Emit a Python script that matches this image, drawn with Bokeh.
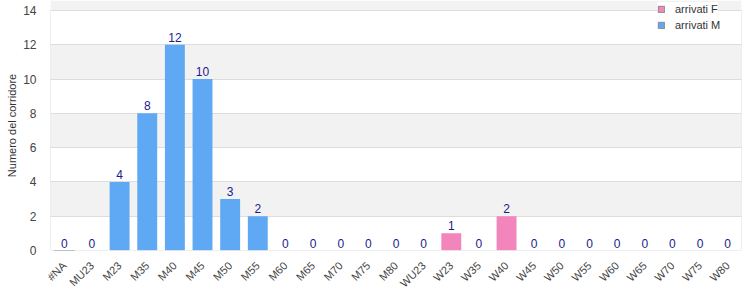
import math
from bokeh.plotting import figure
from bokeh.models import (ColumnDataSource, FactorRange, Range1d, Legend, LegendItem,
                          Span, Title)
from bokeh.core.properties import value
from bokeh.embed import file_html
from bokeh.resources import INLINE

categories_M = ["#NA", "MU23", "M23", "M35", "M40", "M45", "M50", "M55",
                "M60", "M65", "M70", "M75", "M80"]
values_M = [0, 0, 4, 8, 12, 10, 3, 2, 0, 0, 0, 0, 0]
categories_F = ["WU23", "W23", "W35", "W40", "W45", "W50", "W55", "W60",
                "W65", "W70", "W75", "W80"]
values_F = [0, 1, 0, 2, 0, 0, 0, 0, 0, 0, 0, 0]
y_ticks = [0, 2, 4, 6, 8, 10, 12, 14]
y_title = "Numero del corridore"
name_F = "arrivati F"
name_M = "arrivati M"

all_cats = categories_M + categories_F
FONT = "Liberation Sans"
BLUE = "#5fa8f3"
PINK = "#f285bc"
FRAME = "#dddddd"

# the frame reaches the top of the canvas so the legend may sit above the 14 line
y_top = y_ticks[-1] * 250 / 240

p = figure(width=750, height=300, x_range=FactorRange(*all_cats, range_padding=0),
           y_range=Range1d(0, y_top), output_backend="svg", toolbar_location=None,
           min_border_left=50, min_border_right=9, min_border_top=0, min_border_bottom=50)
p.background_fill_color = "white"
p.border_fill_color = "white"
p.outline_line_color = None

src_M = ColumnDataSource(dict(x=categories_M, y=values_M, t=[str(v) for v in values_M]))
src_F = ColumnDataSource(dict(x=categories_F, y=values_F, t=[str(v) for v in values_F]))

p.xgrid.grid_line_color = None
p.ygrid.grid_line_color = FRAME
p.ygrid.band_fill_color = "#f2f2f2"
p.ygrid.band_fill_alpha = 1.0

# frame edges (left/right limited to the 0..14 span)
n_cats = len(all_cats)
p.segment(x0=[0, n_cats], y0=[0, 0], x1=[0, n_cats], y1=[y_ticks[-1]] * 2,
          line_color=FRAME, line_width=1)
p.add_layout(Span(location=0, dimension="width", line_color=FRAME, line_width=1))
p.add_layout(Span(location=y_ticks[-1], dimension="width", line_color=FRAME, line_width=1))

rM = p.vbar(x="x", top="y", width=0.72, source=src_M, fill_color=BLUE, line_color=None)
rF = p.vbar(x="x", top="y", width=0.72, source=src_F, fill_color=PINK, line_color=None)

# legend-only swatches: one bar each placed below the visible range (clipped away)
swatch = ColumnDataSource(dict(x=[all_cats[0]], top=[-2], bottom=[-3]))
lF = p.vbar(x="x", top="top", bottom="bottom", width=0.72, source=swatch,
            fill_color=PINK, line_color="#8a8a8a")
lM = p.vbar(x="x", top="top", bottom="bottom", width=0.72, source=swatch,
            fill_color=BLUE, line_color="#8a8a8a")

for src in (src_M, src_F):
    p.text(x="x", y="y", text="t", source=src, y_offset=-3, text_align="center",
           text_baseline="bottom", text_font=value(FONT), text_font_size="12px",
           text_color="#1a1a8c")

p.yaxis.ticker = y_ticks
p.yaxis.axis_line_color = None
p.yaxis.major_tick_line_color = None
p.yaxis.minor_tick_line_color = None
p.yaxis.major_label_text_font = FONT
p.yaxis.major_label_text_font_size = "12px"
p.yaxis.major_label_text_color = "#444444"
p.yaxis.major_label_standoff = 8

ttl = Title(text=y_title, align="center", offset=-22, standoff=6,
            text_font=FONT, text_font_size="11px", text_font_style="normal",
            text_color="#333333")
p.add_layout(ttl, "left")

p.xaxis.axis_line_color = None
p.xaxis.major_tick_line_color = None
p.xaxis.minor_tick_line_color = None
p.xaxis.major_label_orientation = math.pi / 4
p.xaxis.major_label_text_font = FONT
p.xaxis.major_label_text_font_size = "11px"
p.xaxis.major_label_text_color = "#444444"
p.xaxis.major_label_standoff = 7


def make_legend(label, rend, loc):
    lg = Legend(items=[LegendItem(label=label, renderers=[rend])], location=loc)
    lg.background_fill_color = "white"
    lg.background_fill_alpha = 1.0
    lg.border_line_color = None
    lg.label_text_font = FONT
    lg.label_text_font_size = "11px"
    lg.label_text_color = "#333333"
    lg.glyph_width = 8
    lg.glyph_height = 8
    lg.label_height = 14
    lg.label_standoff = 10
    lg.padding = 2
    lg.spacing = 0
    lg.margin = 0
    return lg


p.add_layout(make_legend(name_M, lM, (607, 218)), "center")
p.add_layout(make_legend(name_F, lF, (607, 234)), "center")

open("out.html", "w").write(file_html(p, INLINE))
